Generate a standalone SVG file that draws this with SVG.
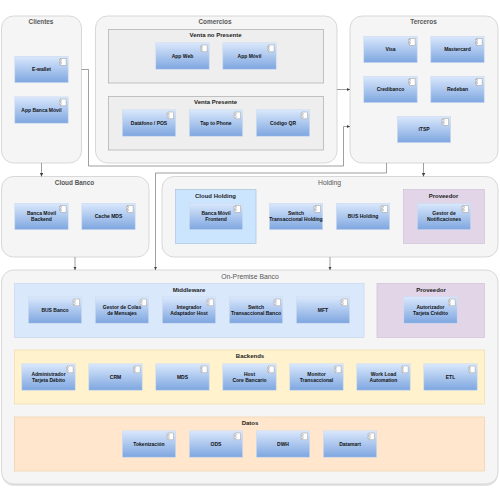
<svg xmlns="http://www.w3.org/2000/svg" xmlns:xlink="http://www.w3.org/1999/xlink" width="500" height="500" viewBox="0 0 500 500">
<style>
text{font-family:"Liberation Sans",Arial,sans-serif;text-anchor:middle;font-weight:bold;opacity:.99}
.t{font-size:5px;fill:#111}
.g{font-size:6.4px;fill:#555}
.gn{font-size:6.8px;fill:#555;font-weight:normal}
.s{font-size:6px;fill:#222}
.outer{fill:#f5f5f5;stroke:#cfcfcf;stroke-width:.8}
.sub{fill:#eeeeee;stroke:#b4b4b4;stroke-width:.8}
.blue{fill:#dae8fc;stroke:#c8d7ee;stroke-width:.7}
.sky{fill:#cce5ff;stroke:#a9c3de;stroke-width:.7}
.pur{fill:#e1d5e7;stroke:#d0c2d8;stroke-width:.7}
.yel{fill:#fff2cc;stroke:#f0dca8;stroke-width:.7}
.ora{fill:#ffe6cc;stroke:#efd0a8;stroke-width:.7}
.c{fill:none;stroke:#777;stroke-width:.7}
</style>
<defs>
<linearGradient id="gr" x1="0" y1="0" x2="0" y2="1"><stop offset="0" stop-color="#dae8fc"/><stop offset="1" stop-color="#7ea6e0"/></linearGradient>
<marker id="a" markerUnits="userSpaceOnUse" markerWidth="4" markerHeight="4" refX="3.4" refY="1.7" orient="auto"><path d="M0 0L3.4 1.7L0 3.4z" fill="#444"/></marker>
<g id="n">
<rect x=".3" y=".3" width="53.4" height="26.4" fill="url(#gr)" stroke="#cddbef" stroke-width=".6"/>
<rect x="46" y="2.5" width="5.6" height="6.8" fill="#fff" stroke="#aaa" stroke-width=".6"/>
<rect x="44.800" y="3.600" width="2.400" height="1.500" fill="#eee" stroke="#aaa" stroke-width=".5"/>
<rect x="44.800" y="6.400" width="2.400" height="1.500" fill="#eee" stroke="#aaa" stroke-width=".5"/>
</g>
</defs>
<g id="clientes"><rect class="outer" x="1.5" y="16" width="80" height="147" rx="12"/><text class="g" x="41" y="24">Clientes</text></g>
<g id="comercios"><rect class="outer" x="95.5" y="16" width="241.5" height="147" rx="12"/><text class="g" x="215" y="24">Comercios</text></g>
<g id="terceros"><rect class="outer" x="350" y="16" width="148" height="147" rx="12"/><text class="g" x="423.5" y="24">Terceros</text></g>
<g id="venta-no-presente"><rect class="sub" x="108.5" y="29.5" width="215" height="53.5"/><text class="s" x="215.5" y="37.3">Venta no Presente</text></g>
<g id="venta-presente"><rect class="sub" x="108.5" y="96.5" width="215" height="53.5"/><text class="s" x="215.5" y="104.3">Venta Presente</text></g>
<g id="cloud-banco"><rect class="outer" x="1.5" y="176.5" width="147.5" height="80.5" rx="12"/><text class="g" x="74.5" y="184.7">Cloud Banco</text></g>
<g id="holding"><rect class="outer" x="162" y="176.5" width="336" height="80.5" rx="12"/><text class="gn" x="329.5" y="184.7">Holding</text></g>
<g id="cloud-holding"><rect class="sky" x="175.5" y="189.5" width="80.5" height="54"/><text class="s" x="215.5" y="197.5">Cloud Holding</text></g>
<g id="proveedor-holding"><rect class="pur" x="403.5" y="189.5" width="81" height="54"/><text class="s" x="443.5" y="197.5">Proveedor</text></g>
<g id="on-premise"><rect x="2" y="272" width="496" height="214" rx="12" fill="#ddd" opacity=".8"/><rect class="outer" x="1.5" y="270" width="496.5" height="214" rx="12"/><text class="gn" x="250" y="278.500">On-Premise Banco</text></g>
<g id="middleware"><rect class="blue" x="14.5" y="283.5" width="349.5" height="54"/><text class="s" x="189" y="291.5">Middleware</text></g>
<g id="proveedor-onprem"><rect class="pur" x="377" y="283.5" width="107.5" height="54"/><text class="s" x="431" y="291.5">Proveedor</text></g>
<g id="backends"><rect class="yel" x="14.5" y="350" width="470" height="54"/><text class="s" x="250" y="358">Backends</text></g>
<g id="datos"><rect class="ora" x="14.5" y="417" width="470" height="54"/><text class="s" x="250" y="425">Datos</text></g>

<g id="connectors">
<path class="c" marker-end="url(#a)" d="M81.500 69.500H88.500V166H343.500V126.500H350"/>
<path class="c" marker-end="url(#a)" d="M337 89.500H350"/>
<path class="c" marker-end="url(#a)" d="M41.500 163V176.500"/>
<path class="c" marker-end="url(#a)" d="M386.500 163V173H155.500V270"/>
<path class="c" marker-end="url(#a)" d="M423.500 163V176.500"/>
<path class="c" marker-end="url(#a)" d="M75 257V270"/>
<path class="c" marker-end="url(#a)" d="M330 257V270"/>
</g>

<g id="e-wallet" transform="translate(14.500 56)"><use xlink:href="#n"/><text class="t" x="27" y="15.300">E-wallet</text></g>
<g id="app-banca-movil" transform="translate(14.500 96.500)"><use xlink:href="#n"/><text class="t" x="27" y="15.300">App Banca Móvil</text></g>
<g id="app-web" transform="translate(155.500 42.500)"><use xlink:href="#n"/><text class="t" x="27" y="15.300">App Web</text></g>
<g id="app-movil" transform="translate(222.500 42.500)"><use xlink:href="#n"/><text class="t" x="27" y="15.300">App Móvil</text></g>
<g id="datafono" transform="translate(122 109.500)"><use xlink:href="#n"/><text class="t" x="27" y="15.300">Datáfono / POS</text></g>
<g id="tap-to-phone" transform="translate(189 109.500)"><use xlink:href="#n"/><text class="t" x="27" y="15.300">Tap to Phone</text></g>
<g id="codigo-qr" transform="translate(256 109.500)"><use xlink:href="#n"/><text class="t" x="27" y="15.300">Código QR</text></g>
<g id="visa" transform="translate(363.500 36)"><use xlink:href="#n"/><text class="t" x="27" y="15.300">Visa</text></g>
<g id="mastercard" transform="translate(430.500 36)"><use xlink:href="#n"/><text class="t" x="27" y="15.300">Mastercard</text></g>
<g id="credibanco" transform="translate(363.500 76)"><use xlink:href="#n"/><text class="t" x="27" y="15.300">Credibanco</text></g>
<g id="redeban" transform="translate(430.500 76)"><use xlink:href="#n"/><text class="t" x="27" y="15.300">Redeban</text></g>
<g id="itsp" transform="translate(397 116)"><use xlink:href="#n"/><text class="t" x="27" y="15.300">iTSP</text></g>
<g id="banca-movil-backend" transform="translate(14.500 203)"><use xlink:href="#n"/><text class="t" x="27" y="12.300">Banca Móvil</text><text class="t" x="27" y="18.300">Backend</text></g>
<g id="cache-mds" transform="translate(81.500 203)"><use xlink:href="#n"/><text class="t" x="27" y="15.300">Cache MDS</text></g>
<g id="banca-movil-frontend" transform="translate(189 203)"><use xlink:href="#n"/><text class="t" x="27" y="12.300">Banca Móvil</text><text class="t" x="27" y="18.300">Frontend</text></g>
<g id="switch-holding" transform="translate(269 203)"><use xlink:href="#n"/><text class="t" x="27" y="12.300">Switch</text><text class="t" x="27" y="18.300">Transaccional Holding</text></g>
<g id="bus-holding" transform="translate(336 203)"><use xlink:href="#n"/><text class="t" x="27" y="15.300">BUS Holding</text></g>
<g id="gestor-notificaciones" transform="translate(417 203)"><use xlink:href="#n"/><text class="t" x="27" y="12.300">Gestor de</text><text class="t" x="27" y="18.300">Notificaciones</text></g>
<g id="bus-banco" transform="translate(28 296.500)"><use xlink:href="#n"/><text class="t" x="27" y="15.300">BUS Banco</text></g>
<g id="gestor-colas" transform="translate(95 296.500)"><use xlink:href="#n"/><text class="t" x="27" y="12.300">Gestor de Colas</text><text class="t" x="27" y="18.300">de Mensajes</text></g>
<g id="integrador" transform="translate(162 296.500)"><use xlink:href="#n"/><text class="t" x="27" y="12.300">Integrador</text><text class="t" x="27" y="18.300">Adaptador Host</text></g>
<g id="switch-banco" transform="translate(229 296.500)"><use xlink:href="#n"/><text class="t" x="27" y="12.300">Switch</text><text class="t" x="27" y="18.300">Transaccional Banco</text></g>
<g id="mft" transform="translate(296 296.500)"><use xlink:href="#n"/><text class="t" x="27" y="15.300">MFT</text></g>
<g id="autorizador" transform="translate(403.500 296.500)"><use xlink:href="#n"/><text class="t" x="27" y="12.300">Autorizador</text><text class="t" x="27" y="18.300">Tarjeta Crédito</text></g>
<g id="administrador" transform="translate(21.500 363.500)"><use xlink:href="#n"/><text class="t" x="27" y="12.300">Administrador</text><text class="t" x="27" y="18.300">Tarjeta Débito</text></g>
<g id="crm" transform="translate(88.500 363.500)"><use xlink:href="#n"/><text class="t" x="27" y="15.300">CRM</text></g>
<g id="mds" transform="translate(155.500 363.500)"><use xlink:href="#n"/><text class="t" x="27" y="15.300">MDS</text></g>
<g id="host" transform="translate(222.500 363.500)"><use xlink:href="#n"/><text class="t" x="27" y="12.300">Host</text><text class="t" x="27" y="18.300">Core Bancario</text></g>
<g id="monitor" transform="translate(289.500 363.500)"><use xlink:href="#n"/><text class="t" x="27" y="12.300">Monitor</text><text class="t" x="27" y="18.300">Transaccional</text></g>
<g id="workload" transform="translate(356.500 363.500)"><use xlink:href="#n"/><text class="t" x="27" y="12.300">Work Load</text><text class="t" x="27" y="18.300">Automation</text></g>
<g id="etl" transform="translate(423.500 363.500)"><use xlink:href="#n"/><text class="t" x="27" y="15.300">ETL</text></g>
<g id="tokenizacion" transform="translate(122 430.500)"><use xlink:href="#n"/><text class="t" x="27" y="15.300">Tokenización</text></g>
<g id="ods" transform="translate(189 430.500)"><use xlink:href="#n"/><text class="t" x="27" y="15.300">ODS</text></g>
<g id="dwh" transform="translate(256 430.500)"><use xlink:href="#n"/><text class="t" x="27" y="15.300">DWH</text></g>
<g id="datamart" transform="translate(323 430.500)"><use xlink:href="#n"/><text class="t" x="27" y="15.300">Datamart</text></g>
</svg>
